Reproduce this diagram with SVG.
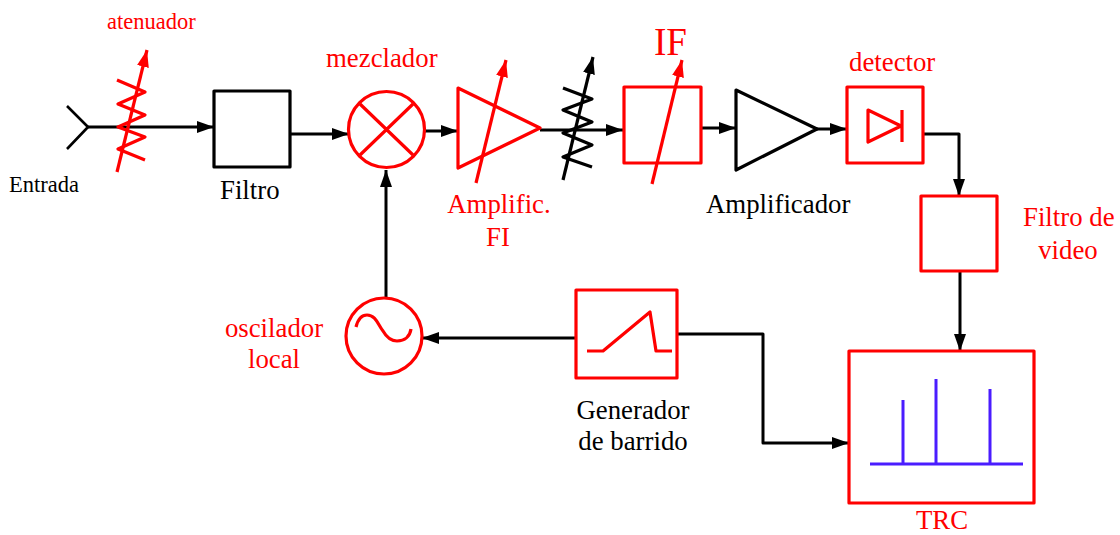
<svg xmlns="http://www.w3.org/2000/svg" width="1120" height="535" viewBox="0 0 1120 535">
<defs>
<marker id="ak" markerUnits="userSpaceOnUse" markerWidth="18" markerHeight="14" refX="17" refY="7" orient="auto"><path d="M0,1 L17,7 L0,13 Z" fill="#000"/></marker>
<marker id="ar" markerUnits="userSpaceOnUse" markerWidth="18" markerHeight="14" refX="17" refY="7" orient="auto"><path d="M0,1 L17,7 L0,13 Z" fill="#f00"/></marker>
</defs>
<style>
.r{fill:none;stroke:#f00;stroke-width:3.2;stroke-linejoin:round}
.k{fill:none;stroke:#000;stroke-width:3.2;stroke-linejoin:round}
.c{fill:none;stroke:#000;stroke-width:3;stroke-linejoin:round;marker-end:url(#ak)}
.b{fill:none;stroke:#4a1cff;stroke-width:3}
.av{marker-end:url(#ar)}
.avk{marker-end:url(#ak)}
text{font-family:"Liberation Serif","Times New Roman",serif;font-size:26.8px;fill:#000}
.tr{fill:#f00}
.m{text-anchor:middle}
</style>
<rect width="1120" height="535" fill="#fff"/>
<g id="connectors">
<path class="c" d="M88,127 H214"/>
<path class="c" d="M290,134 H349"/>
<path class="c" d="M425,131 H458"/>
<path class="c" d="M540,130 H623"/>
<path class="c" d="M701,128 H736"/>
<path class="c" d="M817,129 H847"/>
<path class="c" d="M923,134 H959 V196"/>
<path class="c" d="M960,271 V351"/>
<path class="c" d="M678,334 H763 V443 H849"/>
<path class="c" d="M576,338 H422"/>
<path class="c" d="M386,298 V170"/>
</g>
<g id="entrada">
<path class="k" style="stroke-width:2.6" d="M67,106 L88,127 L67,149"/>
<text x="9" y="192" style="font-size:22.500px">Entrada</text>
</g>
<g id="atenuador">
<path class="r" d="M117,80 L145,92 L118,104 L145,115 L118,127 L145,137 L118,149 L145,160"/>
<path class="r av" d="M117,172 L147,50"/>
<text class="tr" x="107" y="29" style="font-size:22.500px">atenuador</text>
</g>
<g id="filtro">
<rect class="k" x="214" y="91" width="76" height="76"/>
<text x="220" y="199">Filtro</text>
</g>
<g id="mezclador">
<circle class="r" cx="386.500" cy="129.500" r="38"/>
<path class="r" d="M360,104 L413,155 M413,104 L360,155"/>
<text class="tr" x="326" y="67">mezclador</text>
</g>
<g id="amplific-fi">
<path class="r" d="M458,88 L540,128 L458,168 Z"/>
<path class="r av" d="M476,183 L506,60"/>
<text class="tr m" x="499" y="213">Amplific.</text>
<text class="tr m" x="498" y="246">FI</text>
</g>
<g id="atenuador-negro">
<path class="k" d="M563,88 L592,99 L563,110 L592,122 L563,133 L592,145 L563,157 L592,167"/>
<path class="k avk" d="M563,180 L593,57"/>
</g>
<g id="if">
<rect class="r" x="624" y="87" width="77" height="76"/>
<path class="r av" d="M652,184 L682,60"/>
<text class="tr" x="654" y="55" style="font-size:40px" textLength="33" lengthAdjust="spacingAndGlyphs">IF</text>
</g>
<g id="amplificador">
<path class="k" d="M736,90 L817,129 L736,170 Z"/>
<text x="706" y="213">Amplificador</text>
</g>
<g id="detector">
<rect class="r" x="847" y="87" width="76" height="76"/>
<path class="r" d="M868,110 L901,126 L868,142 Z M902,110 V142"/>
<text class="tr" x="849" y="71">detector</text>
</g>
<g id="filtro-video">
<rect class="r" x="921" y="196" width="76" height="75"/>
<text class="tr" x="1023" y="226">Filtro de</text>
<text class="tr m" x="1068" y="259">video</text>
</g>
<g id="trc">
<rect class="r" x="849" y="351" width="185" height="152"/>
<path class="b" d="M870,464 H1023 M903,464 V400 M936,464 V379 M990,464 V389"/>
<text class="tr" x="916" y="529">TRC</text>
</g>
<g id="generador">
<rect class="r" x="576" y="290" width="101" height="88"/>
<path class="r" d="M587,351 H603 L650,312 L656,351 H672"/>
<text class="m" x="633" y="419">Generador</text>
<text class="m" x="633" y="450">de barrido</text>
</g>
<g id="oscilador">
<circle class="r" cx="384" cy="336" r="38"/>
<path class="r" d="M356,327 C358,319 362,315 367,315 C376,315 378,325 383,331 C387,338 392,341 397,341 C405,341 410,336 411,329"/>
<text class="tr m" x="274" y="337">oscilador</text>
<text class="tr m" x="274" y="368">local</text>
</g>
</svg>
